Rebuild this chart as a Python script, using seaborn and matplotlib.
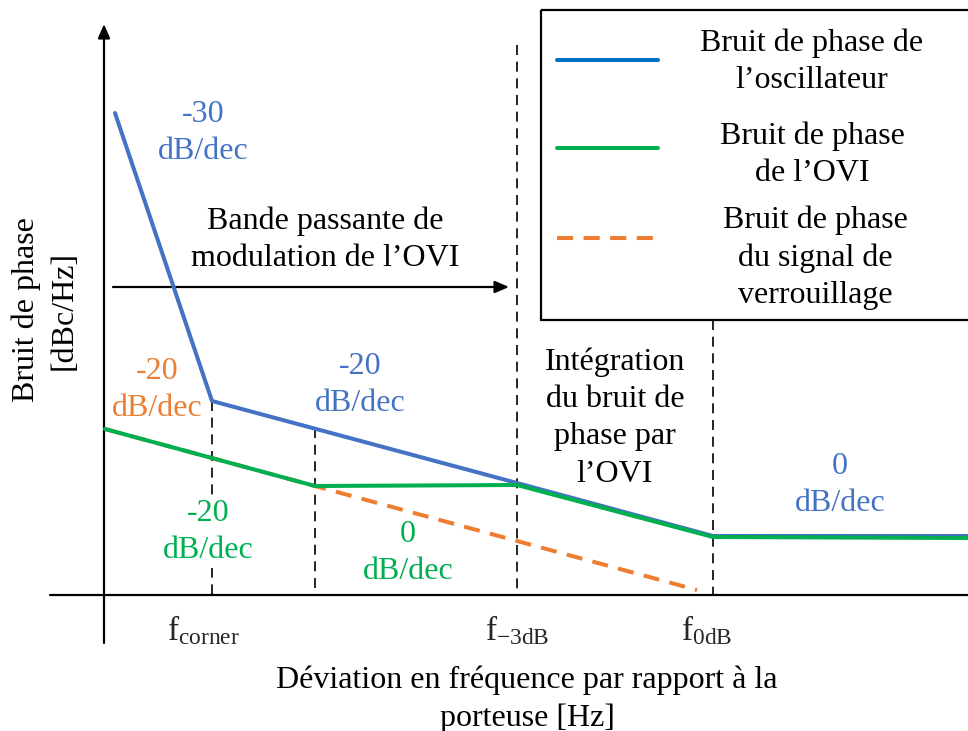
import matplotlib
matplotlib.use("Agg")
import matplotlib.pyplot as plt
import seaborn as sns
import pandas as pd
from matplotlib.patches import Rectangle

sns.set_theme(style="white")
plt.rcParams['font.family'] = ['Liberation Serif', 'DejaVu Serif']
plt.rcParams['mathtext.fontset'] = 'custom'
plt.rcParams['mathtext.rm'] = 'Liberation Serif'
plt.rcParams['mathtext.it'] = 'Liberation Serif:italic'

# ---- data (schematic, in picture units: x to the right, y downward) ----
osc_x = [115, 212, 517, 713, 968]
osc_y = [113, 401, 483, 536, 536]
ovi_x = [105, 315, 517, 713, 968]
ovi_y = [429, 486, 485, 537, 538]
ref_x = [105, 315, 697]
ref_y = [429, 486, 590]

freq_marks_x = [212, 315, 517, 713]
freq_marks_top = [401, 428, 45, 320]
tick_labels = [r'$\mathrm{f}_{\mathrm{corner}}$', r'$\mathrm{f}_{\mathrm{-3dB}}$', r'$\mathrm{f}_{\mathrm{0dB}}$']
tick_label_x = [203, 517, 707]

legend_labels = ["Bruit de phase de\nl\u2019oscillateur",
                 "Bruit de phase\nde l\u2019OVI",
                 "Bruit de phase\ndu signal de\nverrouillage"]

BLUE = "#4472C4"
BLUE_LEG = "#0070C0"
GREEN = "#00B050"
ORANGE = "#ED7D31"
FS = 23
LS = 1.38

fig = plt.figure(figsize=(9.68, 7.31), dpi=100)
ax = fig.add_axes([0, 0, 1, 1])
ax.set_xlim(0, 968)
ax.set_ylim(731, 0)
ax.axis("off")

LW = 2.9
# curves
sns.lineplot(x=ref_x, y=ref_y, sort=False, estimator=None, ax=ax, color=ORANGE,
             linewidth=LW, linestyle=(0, (4, 2.6)), zorder=3)
sns.lineplot(x=osc_x, y=osc_y, sort=False, estimator=None, ax=ax, color=BLUE,
             linewidth=LW, zorder=4)
sns.lineplot(x=ovi_x, y=ovi_y, sort=False, estimator=None, ax=ax, color=GREEN,
             linewidth=LW, zorder=5)

# axes
ax.plot([50, 968], [595, 595], color="black", lw=1.6, zorder=2)
ax.annotate("", xy=(104, 24), xytext=(104, 643),
            arrowprops=dict(arrowstyle="-|>,head_length=0.7,head_width=0.3", color="black", lw=1.6,
                            shrinkA=0, shrinkB=0), zorder=2)

# vertical dashed markers
for xv, yt in zip(freq_marks_x, freq_marks_top):
    ax.plot([xv, xv], [yt, 595], color="black", lw=1.2, linestyle=(0, (6, 4)), zorder=1)

# bandwidth arrow
ax.annotate("", xy=(509, 287), xytext=(113, 287),
            arrowprops=dict(arrowstyle="-|>,head_length=0.7,head_width=0.3", color="black", lw=1.6,
                            shrinkA=0, shrinkB=0))

# texts
def t(x, y, s, c="black", **kw):
    ax.text(x, y, s, color=c, fontsize=FS, ha="center", va="center",
            multialignment="center", linespacing=LS, **kw)

t(203, 133, "-30\ndB/dec", BLUE)
t(325, 240, "Bande passante de\nmodulation de l\u2019OVI")
t(157, 390, "-20\ndB/dec", ORANGE)
t(360, 385, "-20\ndB/dec", BLUE)
t(208, 532, "-20\ndB/dec", GREEN, zorder=2,
  bbox=dict(boxstyle="square,pad=0.1", facecolor="white", edgecolor="none"))
t(408, 553, "0\ndB/dec", GREEN)
t(615, 418, "Int\u00e9gration\ndu bruit de\nphase par\nl\u2019OVI")
t(840, 485, "0\ndB/dec", BLUE)

for lx, lab in zip(tick_label_x, tick_labels):
    ax.text(lx, 630, lab, fontsize=24, ha="center", va="center")

t(527, 699, "D\u00e9viation en fr\u00e9quence par rapport \u00e0 la\nporteuse [Hz]")
t(45, 310, "Bruit de phase\n[dBc/Hz]", rotation=90)

# legend box
ax.add_patch(Rectangle((541, 10), 440, 310, fill=False, edgecolor="black", lw=1.6, zorder=6))
leg_y = [60, 148, 238]
leg_text_y = [62, 155, 258]
leg_colors = [BLUE_LEG, GREEN, ORANGE]
leg_styles = ["-", "-", (0, (4, 2.6))]
leg_text_x = [812, 812, 815]
for yy, ty, c, ls, tx, lab in zip(leg_y, leg_text_y, leg_colors, leg_styles, leg_text_x, legend_labels):
    ax.plot([557, 658], [yy, yy], color=c, lw=LW, linestyle=ls, zorder=6)
    t(tx, ty, lab)

fig.savefig("out.png", dpi=100)
